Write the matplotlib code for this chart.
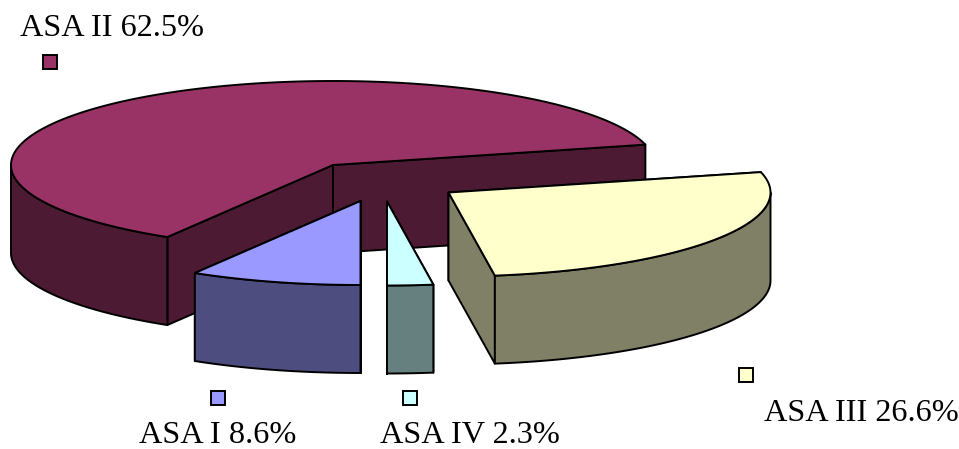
import numpy as np
import matplotlib
matplotlib.use("Agg")
import matplotlib.pyplot as plt
from matplotlib.patches import Polygon

# ASA physical-status classes, clockwise from six o'clock
labels = ["ASA I 8.6%", "ASA II 62.5%", "ASA III 26.6%", "ASA IV 2.3%"]
shares = [8.6, 62.5, 26.6, 2.3]
top_colors = ["#9999FF", "#993366", "#FFFFCC", "#CCFFFF"]
side_colors = ["#4D4D80", "#4C1A33", "#808066", "#668080"]

# Projected pie geometry (pixels)
RX, RY, DEPTH = 322.0, 84.0, 88.0
START = 180.0
LINE = 1.4
apexes = [(360.5, 201), (333, 165), (448.5, 192.5), (387, 201.5)]
key_pos = [(218, 398), (50, 62), (746, 374.5), (410, 398)]
label_pos = [(139, 443), (20, 36), (764, 421), (380, 443)]
draw_order = [1, 3, 0, 2]

plt.rcParams["font.family"] = ["Liberation Serif", "DejaVu Serif"]
fig = plt.figure(figsize=(9.59, 4.49), dpi=100, facecolor="white")
ax = fig.add_axes([0, 0, 1, 1])
ax.set_xlim(0, 959)
ax.set_ylim(449, 0)
ax.axis("off")

total = sum(shares)
edges = START + np.concatenate([[0], np.cumsum(shares)]) / total * 360


def rim(cx, cy, a0, a1, dy=0.0):
    t = np.radians(np.linspace(a0, a1, max(int(abs(a1 - a0) * 2), 2)))
    return np.column_stack([cx + RX * np.sin(t), cy - RY * np.cos(t) + dy])


def face(pts, color, z):
    ax.add_patch(Polygon(pts, closed=True, facecolor=color, edgecolor="black",
                         linewidth=LINE, joinstyle="round", zorder=z))


for z, i in enumerate(draw_order):
    cx, cy = apexes[i]
    a0, a1 = edges[i], edges[i + 1]
    base = z * 10 + 1
    # Cut faces running from the apex out to each radial edge
    for n, a in enumerate((a0, a1)):
        p = rim(cx, cy, a, a + 1e-6)[0]
        quad = [(cx, cy), p, (p[0], p[1] + DEPTH), (cx, cy + DEPTH)]
        face(quad, side_colors[i], base + n)
    # Outer wall: only the part of the rim that faces the viewer
    for lo, hi in ((90, 270), (450, 630)):
        s, e = max(a0, lo), min(a1, hi)
        if s < e:
            front = rim(cx, cy, s, e)
            back = rim(cx, cy, e, s, DEPTH)
            face(np.vstack([front, back]), side_colors[i], base + 3)
    # Top face
    face(np.vstack([[(cx, cy)], rim(cx, cy, a0, a1)]), top_colors[i], base + 4)

# Legend keys and labels
for i, label in enumerate(labels):
    kx, ky = key_pos[i]
    ax.add_patch(plt.Rectangle((kx - 7, ky - 7), 14, 14, facecolor=top_colors[i],
                               edgecolor="black", linewidth=LINE, zorder=100))
    ax.text(label_pos[i][0], label_pos[i][1], label, fontsize=23.2, color="black",
            ha="left", va="baseline", zorder=101)

fig.savefig("out.png", dpi=100)
